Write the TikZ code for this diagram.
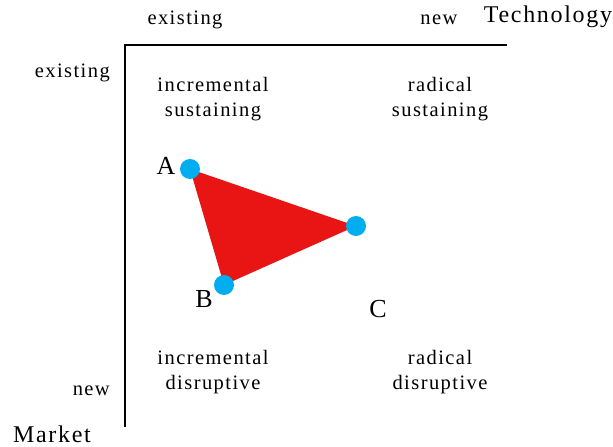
\documentclass[tikz,border=0pt]{standalone}
\usepackage{fontspec}
\setmainfont{Liberation Serif}[LetterSpace=7]
\newfontfamily\plainfont{Liberation Serif}
\definecolor{dotblue}{HTML}{00AEEF}
\definecolor{trired}{HTML}{E91414}
\begin{document}
\begin{tikzpicture}[x=1pt,y=-1pt,
  lab/.style={font=\fontsize{20.5}{24.5}\selectfont, inner sep=0pt},
  axislab/.style={font=\fontsize{24}{26}\selectfont, inner sep=0pt},
  quad/.style={lab, align=center},
  letter/.style={font=\plainfont\fontsize{26}{28}\selectfont, inner sep=0pt},
  dot/.style={circle, fill=dotblue, minimum size=20pt, inner sep=0pt},
  axis/.style={line width=2pt, black}]
\useasboundingbox (0,0) rectangle (613,447);
% axes
\coordinate (origin) at (125,45);
\coordinate (xend) at (507,45);
\coordinate (yend) at (125,427);
\draw[axis] (yend) -- (origin) -- (xend);
% axis labels
\node[lab, anchor=base] (texist) at (185,24) {existing};
\node[lab, anchor=base] (tnew) at (439,24) {new};
\node[axislab, anchor=base] (tech) at (548,23) {Technology};
\node[lab, anchor=base east] (mexist) at (110,77) {existing};
\node[lab, anchor=base east] (mnew) at (110,395) {new};
\node[axislab, anchor=base] (market) at (52,442) {Market};
% quadrants
\node[quad] (q1) at (213,99) {incremental\\sustaining};
\node[quad] (q2) at (440,99) {radical\\sustaining};
\node[quad] (q3) at (213,372) {incremental\\disruptive};
\node[quad] (q4) at (440,372) {radical\\disruptive};
% triangle
\coordinate (pa) at (190,169);
\coordinate (pc) at (356,226);
\coordinate (pb) at (224,285);
\fill[trired] (pa) -- (pc) -- (pb) -- cycle;
\node[dot] (A) at (pa) {};
\node[dot] (Cdot) at (pc) {};
\node[dot] (B) at (pb) {};
\node[letter, anchor=base] (la) at (166,174) {A};
\node[letter, anchor=base] (lb) at (204,307) {B};
\node[letter, anchor=base] (lc) at (378,317) {C};
\end{tikzpicture}
\end{document}
